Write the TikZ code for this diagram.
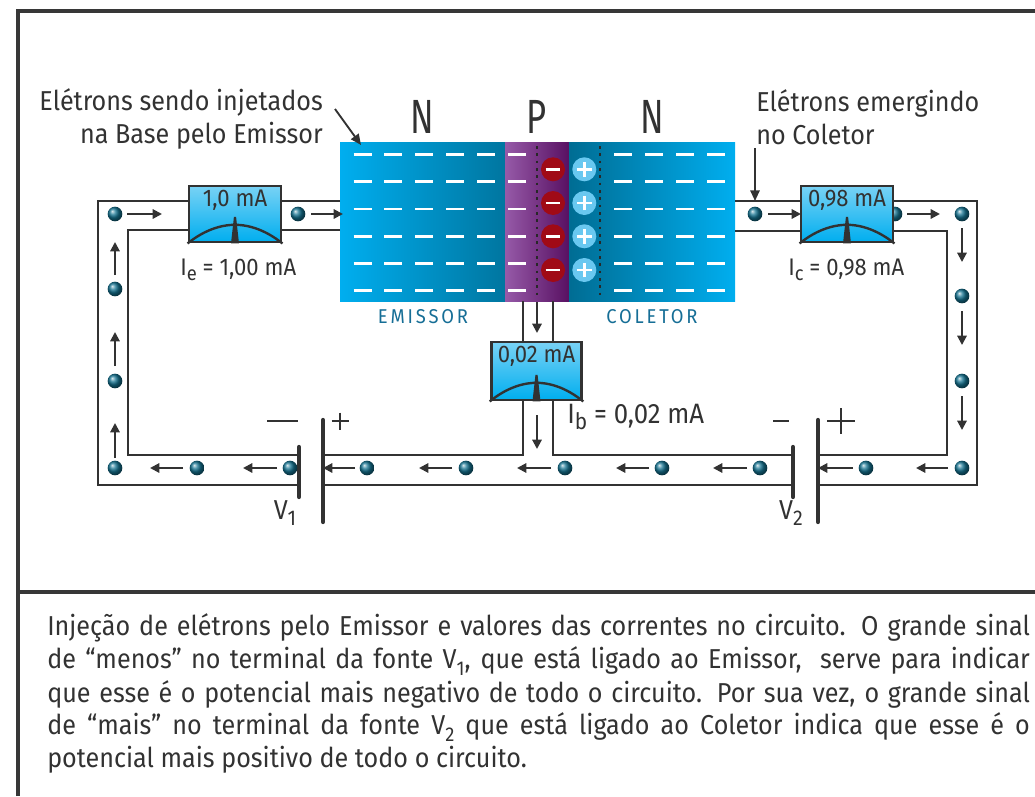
\documentclass[tikz,border=0pt]{standalone}
\usepackage{fontspec}
\setmainfont{Fira Sans}[FakeStretch=0.92]
\newfontfamily\bigletters{Fira Sans}[FakeStretch=0.72]
\usetikzlibrary{arrows.meta,shadings}

\definecolor{wire}{RGB}{50,50,50}
\definecolor{framecol}{RGB}{55,55,55}
\definecolor{nlight}{RGB}{0,174,239}
\definecolor{ndark}{RGB}{0,118,160}
\definecolor{plight}{RGB}{150,90,168}
\definecolor{pdark}{RGB}{88,16,98}
\definecolor{ionred}{RGB}{160,10,22}
\definecolor{ionblue}{RGB}{105,200,240}
\definecolor{labelblue}{RGB}{22,110,150}
\definecolor{ammtop}{RGB}{120,210,245}
\definecolor{eball}{RGB}{20,115,145}

\newcommand{\lowsub}[2][15]{\raisebox{-0.45ex}{\fontsize{#1}{#1}\selectfont #2}}

\begin{document}
\begin{tikzpicture}[x=0.75pt,y=-0.75pt,
  wireline/.style={draw=wire,line width=1.8pt},
  flow/.style={draw=wire,line width=1.5pt,-{Triangle[length=7pt,width=7pt]}},
  pointer/.style={draw=wire,line width=1.4pt,-{Triangle[length=8pt,width=7pt]}},
  electron/.style={circle,inner sep=0pt,minimum size=11pt,ball color=eball},
  ammeter/.style={rectangle,draw=wire,line width=2.2pt,top color=ammtop,bottom color=nlight,
    minimum width=69pt,minimum height=42pt,inner sep=0pt},
  amtext/.style={anchor=north,inner sep=0pt,text=wire,font=\fontsize{18}{18}\selectfont},
  lbl/.style={text=wire,inner sep=0pt,font=\fontsize{20.5}{24.75}\selectfont},
  plate/.style={draw=wire,line width=3.2pt,line cap=round},
  sign/.style={draw=wire,line width=1.9pt},
  region/.style={text=labelblue,inner sep=0pt,font=\fontsize{15}{15}\selectfont\addfontfeature{LetterSpace=14}},
  npn/.style={text=wire,inner sep=0pt,font=\fontsize{36}{36}\selectfont\bigletters},
  ion/.style={circle,inner sep=0pt,minimum size=18pt},
  carrier/.style={draw=white,line width=2.2pt},
  junction/.style={draw=wire!80!black,line width=1.6pt,dash pattern=on 2pt off 3.5pt}
]
\useasboundingbox (0,0) rectangle (1035,796);

% outer frame and caption divider
\draw[framecol,line width=2.3pt] (18,796) -- (18,11) -- (1035,11);
\draw[framecol,line width=2.3pt] (18,592) -- (1035,592);

% ---------- transistor block: emitter, base, collector ----------
\fill[left color=nlight,right color=ndark] (340,142) rectangle (505,301);
\fill[left color=plight,right color=pdark] (505,142) rectangle (569,301);
\fill[left color=ndark!92!black,right color=nlight] (569,142) rectangle (735,301);
\draw[junction] (537,146) -- (537,299);
\draw[junction] (600,146) -- (600,299);

% free electrons in the N regions
\foreach \yy in {154.3,181.7,209,236.3,263.7,290.7}{
  \foreach \xx in {362.7,393.3,424.3,455.3,486.3,517.3,623.3,654,685,716}{
    \draw[carrier] (\xx-9,\yy) -- (\xx+9,\yy);
  }
}
% depletion ions
\foreach \yy/\k in {169.3/1,203/2,236.3/3,270/4}{
  \node[ion,fill=ionred] (neg\k) at (553,\yy) {};
  \draw[draw=white,line width=2.2pt] ([xshift=-5.5pt]neg\k.center) -- ([xshift=5.5pt]neg\k.center);
  \node[ion,fill=ionblue] (pos\k) at (584.3,\yy) {};
  \draw[draw=white,line width=2.2pt] ([xshift=-5.5pt]pos\k.center) -- ([xshift=5.5pt]pos\k.center);
  \draw[draw=white,line width=2.2pt] ([yshift=-5.5pt]pos\k.center) -- ([yshift=5.5pt]pos\k.center);
}

\node[npn] (nE) at (422,117) {N};
\node[npn] (pB) at (537,117) {P};
\node[npn] (nC) at (652,117) {N};
\node[region] (emLbl) at (423,317) {EMISSOR};
\node[region] (coLbl) at (652,317) {COLETOR};

% ---------- wiring ----------
% emitter loop
\draw[wireline] (340,201) -- (98,201) -- (98,485) -- (299,485);
\draw[wireline] (340,230) -- (128,230) -- (128,455) -- (299,455);
% middle run with the base branch
\draw[wireline] (323,485) -- (793,485);
\draw[wireline] (323,455) -- (523,455) -- (523,301);
\draw[wireline] (553,301) -- (553,455) -- (793,455);
% collector loop
\draw[wireline] (735,201) -- (977,201) -- (977,485) -- (818,485);
\draw[wireline] (735,231) -- (947,231) -- (947,455) -- (818,455);

% ---------- batteries ----------
\draw[plate] (299,447) -- (299,497);
\draw[plate] (323,420) -- (323,522);
\draw[plate] (793,447) -- (793,497);
\draw[plate] (818,420) -- (818,522);
\draw[sign] (267,421) -- (298,421);
\draw[sign] (331.5,421) -- (348.5,421);
\draw[sign] (340,412.5) -- (340,429.5);
\draw[sign] (773,421) -- (789,421);
\draw[sign] (827,421) -- (855,421);
\draw[sign] (841,408) -- (841,434);
\node[lbl] (v1) at (285,513) {V\lowsub[16]{1}};
\node[lbl] (v2) at (791,513) {V\lowsub[16]{2}};

% ---------- electrons ----------
\foreach \n/\xx/\yy in {a1/115/214,a2/298/214,a3/115/289,a4/115/381,a5/115/468,
  a6/197/468,a7/290/468,b1/367/468,b2/466/468,b3/565/468,b4/662/468,b5/760/468,
  c1/866/468,c2/962/468,c3/962/381,c4/962/296,c5/962/214,c6/895/214,c7/755/214}{
  \node[electron] (\n) at (\xx,\yy) {};
}

% ---------- ammeters ----------
\node[ammeter] (amE) at (235,214) {};
\node[ammeter] (amC) at (847,214) {};
\node[ammeter,minimum width=68pt,minimum height=43.5pt] (amB) at (536.5,371) {};
\foreach \m/\t in {amE/{1,0 mA},amC/{0,98 mA},amB/{0,02 mA}}{
  \node[amtext] at ([yshift=-4pt]\m.north) {\t};
  \draw[draw=wire,line width=1.8pt] (\m.south west) parabola bend ([yshift=14pt]\m.south) (\m.south east);
  \fill[wire] ([xshift=-3pt]\m.south) -- ([xshift=-0.8pt,yshift=20pt]\m.south)
    -- ([xshift=0.8pt,yshift=20pt]\m.south) -- ([xshift=3pt]\m.south) -- cycle;
}

% ---------- electron flow arrows ----------
\draw[flow] (127,214) -- (162,214);
\draw[flow] (311,214) -- (343,214);
\draw[flow] (115,275) -- (115,242);
\draw[flow] (115,366) -- (115,332);
\draw[flow] (115,458) -- (115,423);
\draw[flow] (183,468) -- (150,468);
\draw[flow] (277,468) -- (243,468);
\draw[flow] (355,468) -- (323,468);
\draw[flow] (452,468) -- (419,468);
\draw[flow] (551,468) -- (517,468);
\draw[flow] (649,468) -- (616,468);
\draw[flow] (747,468) -- (713,468);
\draw[flow] (853,468) -- (818,468);
\draw[flow] (948,468) -- (916,468);
\draw[flow] (962,228) -- (962,262);
\draw[flow] (962,311) -- (962,345);
\draw[flow] (962,396) -- (962,430);
\draw[flow] (768,214) -- (801,214);
\draw[flow] (907,214) -- (940,214);
\draw[flow] (537,302) -- (537,333);
\draw[flow] (537,415) -- (537,449);

% ---------- current readings ----------
\node[lbl,anchor=west,font=\fontsize{18}{18}\selectfont] (ie) at (180,270) {I\lowsub{e} = 1,00 mA};
\node[lbl,anchor=west,font=\fontsize{18}{18}\selectfont] (ic) at (788,270) {I\lowsub{c} = 0,98 mA};
\node[lbl,anchor=west,font=\fontsize{21}{21}\selectfont] (ib) at (567,417) {I\lowsub[17]{b} = 0,02 mA};

% ---------- annotations ----------
\node[lbl,anchor=east,align=right] (injTxt) at (323,119) {Elétrons sendo injetados\\na Base pelo Emissor};
\draw[pointer] (335,109) -- (361,145);
\node[lbl,anchor=west,align=left] (emTxt) at (756,117) {Elétrons emergindo\\no Coletor};
\draw[pointer] (755,148) -- (755,201);

% ---------- caption ----------
\begin{scope}[every node/.style={lbl,anchor=west}]
\node (cap1) at (47,628) {\makebox[737pt][s]{Injeção de elétrons pelo Emissor e valores das correntes no circuito. O grande sinal}};
\node (cap2) at (47,661) {\makebox[737pt][s]{de “menos” no terminal da fonte V\lowsub{1}, que está ligado ao Emissor,\ \ serve para indicar}};
\node (cap3) at (47,694) {\makebox[737pt][s]{que esse é o potencial mais negativo de todo o circuito. Por sua vez, o grande sinal}};
\node (cap4) at (47,727) {\makebox[737pt][s]{de “mais” no terminal da fonte V\lowsub{2} que está ligado ao Coletor indica que esse é o}};
\node (cap5) at (47,760) {potencial mais positivo de todo o circuito.};
\end{scope}
\end{tikzpicture}
\end{document}
